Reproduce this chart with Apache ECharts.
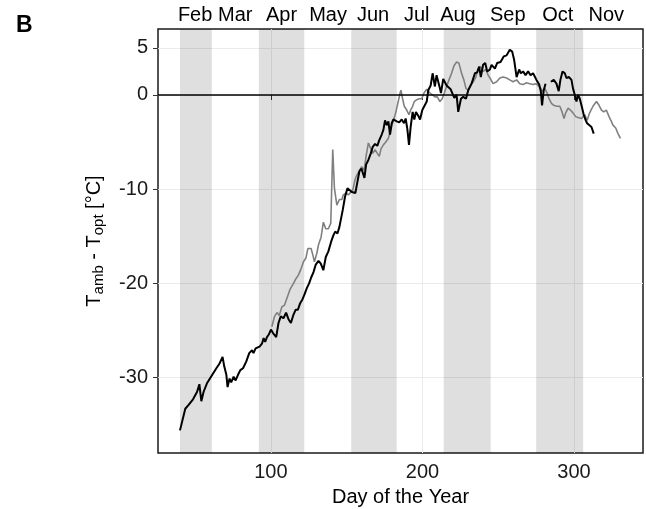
<!DOCTYPE html>
<html>
<head>
<meta charset="utf-8">
<script src="https://cdn.jsdelivr.net/npm/echarts@6/dist/echarts.min.js"></script>
<style>
  html, body { margin: 0; padding: 0; background: #fff; }
  #chart { width: 646px; height: 509px; }
</style>
</head>
<body>
<div id="chart"></div>
<script>
// black series (day of year, Tamb - Topt)
const blackDays = [40, 43.5, 45.7, 48.6, 51.3, 52.8, 54.1, 55.6, 57.8, 60.5, 61.8, 64, 66.1, 68.1, 69.2, 70.6,
  71.4, 72.7, 73.8, 75.4, 76.7, 78.3, 79.8, 81.6, 82.4, 83.7, 85.7, 87.5, 88.5, 89.9, 91.2, 92.5, 94.1, 95.2,
  96.2, 97.4, 98.7, 100, 101.5, 103.5, 105, 106.5, 108.3, 110, 111.6, 113.2, 114.7, 116.3, 117.8, 119.3, 120.8,
  122.1, 123.7, 125.2, 126.5, 128.1, 129.6, 131.4, 132.9, 134.6, 136.2, 137.9, 139.7, 141.2, 142.4, 143.9,
  145.2, 146.1, 147.4, 148.9, 150.5, 151.8, 153.4, 154.4, 155.7, 157.1, 158.4, 159.7, 160.8, 161.7, 162.8,
  164.3, 165.9, 167.2, 168.7, 170.2, 171.5, 173.1, 174.2, 175.3, 176.4, 177.5, 178.6, 179.7, 180.8, 182, 183,
  184.7, 186.3, 187.8, 188.9, 190, 191.1, 192.2, 193.5, 194.6, 195.7, 197.2, 198.4, 199.9, 201.2, 202.8, 203.8,
  205.4, 206.7, 208.2, 209.3, 210.4, 211.5, 212.2, 213.7, 215.9, 217, 218.6, 219.9, 221, 222.5, 223.6, 225.4,
  226.9, 228.7, 230.2, 232.4, 234.6, 236.1, 237.4, 238.5, 240, 241.4, 242.7, 244.5, 245.6, 247.8, 249.3, 251.5,
  253.7, 255.5, 257.6, 259.2, 260.5, 262.1, 263.8, 264.9, 266.4, 268, 269.7, 271.3, 273, 275.2, 277, 278.1,
  278.9, 280, 281.2, 283, 284.7, 286.6, 288.4, 289.9, 291, 292.4, 293.9, 295, 296.7, 298.3, 299.3, 300.5,
  301.6, 302.6, 303.8, 304.9, 306.4, 307.7, 308.6, 309.9, 311.5, 313];
const blackTemps = [-35.6, -33.3, -32.9, -32.3, -31.5, -30.7, -32.5, -31.5, -30.6, -29.9, -29.8, -29.0, -28.5,
  -27.8, -28.8, -29.7, -31.0, -30.1, -30.5, -29.9, -30.3, -29.7, -29.2, -29.0, -29.2, -28.3, -27.4, -27.1,
  -27.4, -26.9, -27.0, -26.7, -26.4, -25.8, -26.2, -25.7, -25.4, -24.9, -25.3, -25.7, -24.2, -23.5, -23.7,
  -23.1, -23.8, -24.2, -23.4, -22.8, -22.8, -22.1, -21.7, -21.2, -20.5, -20.0, -19.4, -18.8, -18.0, -17.6,
  -17.9, -18.6, -17.2, -16.6, -15.6, -14.9, -14.5, -14.7, -14.0, -14.2, -12.2, -10.8, -9.9, -9.7, -10.3,
  -10.1, -10.4, -9.2, -8.1, -7.8, -8.0, -8.8, -7.4, -6.9, -6.2, -5.5, -5.2, -5.4, -4.8, -4.2, -3.7, -2.7,
  -3.2, -2.8, -4.2, -3.0, -2.6, -2.7, -2.8, -2.9, -2.6, -3.0, -2.5, -3.6, -5.3, -3.4, -1.8, -2.6, -1.8, -2.2,
  -2.6, -1.6, -1.8, -0.7, 0.5, 1.0, 2.3, 0.9, 2.1, 2.3, 0.7, 0.2, 1.7, 1.0, 1.2, 0.6, 0.4, -0.3, 0.0, -1.8,
  -0.4, -0.2, -0.4, 0.5, 1.2, 2.3, 2.4, 3.0, 1.9, 3.2, 3.4, 2.5, 2.7, 3.2, 2.8, 3.4, 3.5, 4.1, 4.2, 4.8, 4.6,
  3.7, 1.9, 2.7, 2.3, 2.5, 2.1, 2.5, 2.1, 2.3, 1.6, 1.1, 0.4, -1.1, 0.5, 1.2, null, 1.4, 1.6, 1.2, 0.4, 1.6,
  2.5, 2.3, 1.8, 1.9, 1.6, 0.7, 0.0, -0.7, 0.0, -0.4, -1.1, -2.1, -2.7, -3.0, -3.2, -3.4, -4.1];

// grey series
const greyDays = [100.6, 102.4, 104, 105.5, 107.2, 109, 110.5, 112.7, 114.9, 116.5, 118.2, 120, 121.5, 123.1,
  124.4, 125.4, 126.5, 127.7, 128.7, 130.3, 131.4, 133.1, 134.6, 136.2, 137.9, 139.5, 140.8, 141.9, 143.5,
  145.2, 146.8, 147.8, 149.6, 151.1, 152.2, 154, 155.5, 156.7, 158.4, 159.9, 161.5, 162.8, 164.3, 165.9, 167.2,
  168.7, 170.2, 171.5, 172.7, 174.2, 175.8, 177.5, 179, 180.8, 182.3, 184, 185.2, 185.8, 186.9, 188, 189.6,
  191.1, 192.2, 193.5, 194.6, 196.2, 197.9, 199.5, 201, 202.8, 204.9, 206.7, 208.2, 209.8, 211.5, 213, 214.4,
  215.9, 217.5, 219.2, 220.8, 222.5, 224, 225.8, 227.3, 228.7, 230.2, 231.8, 233.5, 235.2, 236.8, 238.3, 240,
  241.8, 243.3, 244.5, 246.6, 248.9, 251.1, 253.2, 255.5, 257.6, 259.8, 262.1, 264.2, 266.4, 268.6, 270.8, 273,
  274.8, 277, 279.2, 280.7, 282.2, 283.5, 285.1, 286.6, 288.4, 290.6, 292.1, 293.4, 294.5, 296.1, 297.6, 299.3,
  301.1, 302.6, 304.9, 307.1, 308.6, 310.3, 312.5, 314.8, 316.5, 318.1, 319.6, 321.3, 323.1, 324.6, 325.7,
  327.5, 329, 330.6];
const greyTemps = [-24.6, -23.5, -23.1, -23.4, -22.5, -22.3, -21.6, -20.6, -20.0, -19.5, -19.1, -18.4, -17.7,
  -17.3, -16.3, -16.5, -16.3, -17.0, -17.7, -16.8, -15.9, -15.1, -13.5, -14.2, -14.2, -13.6, -5.8, -9.9, -11.7,
  -11.1, -11.1, -10.6, -10.4, -10.6, -10.4, -10.1, -9.0, -8.5, -8.0, -7.6, -8.0, -6.5, -5.1, -5.7, -6.2, -5.8,
  -6.2, -6.5, -5.7, -5.3, -5.0, -4.6, -3.7, -2.7, -1.9, -0.7, 0.2, 0.5, -0.4, -1.2, -1.6, -2.1, -1.6, -1.2,
  -0.7, -0.5, -0.4, -0.4, 0.2, 0.6, 0.2, 0.0, -0.2, -0.2, -0.7, -0.4, 0.2, 0.9, 1.6, 2.3, 3.1, 3.5, 3.4, 2.3,
  1.6, 0.7, 0.5, 1.1, 1.4, 1.9, 2.8, 3.0, 2.5, 2.7, 2.1, 1.8, 1.2, 1.4, 1.8, 1.9, 1.8, 1.6, 1.4, 1.6, 1.2, 1.1,
  1.3, 1.2, 1.1, 1.2, 0.9, 0.4, 0.7, 0.2, -0.4, -0.9, -1.1, -1.2, -1.2, -1.8, -2.5, -1.9, -1.4, -1.6, -1.9,
  -2.3, -2.4, -2.5, -2.1, -2.7, -1.9, -1.2, -0.7, -1.1, -1.6, -1.8, -1.6, -2.3, -2.8, -3.2, -3.5, -4.1, -4.6];

// shaded months (Feb, Apr, Jun, Aug, Oct)
const bandStarts = [40, 92, 153, 214, 275];
const bandEnds = [61, 122, 183, 245, 306];

// month labels on the top axis
const monthNames = ["Feb", "Mar", "Apr", "May", "Jun", "Jul", "Aug", "Sep", "Oct", "Nov"];
const monthPos = [50, 76.5, 107, 137.7, 167.4, 196.2, 223.4, 256.3, 289.3, 321.3];

const xTicks = [100, 200, 300];
const yTicks = [-30, -20, -10, 0, 5];

const font = "Liberation Sans, Arial, sans-serif";

const toPairs = (xs, ys) => xs.map((x, i) => [x, ys[i] === null ? "-" : ys[i]]);

const option = {
  backgroundColor: "#fff",
  animation: false,
  title: {
    text: "B",
    left: 16,
    top: 14,
    padding: 0,
    textStyle: { fontFamily: font, fontSize: 23, fontWeight: "bold", color: "#000" },
  },
  grid: {
    left: 158,
    right: 3,
    top: 29,
    bottom: 56,
    outerBoundsMode: "none",
    containLabel: false,
    show: true,
    borderColor: "#1a1a1a",
    borderWidth: 1.5,
  },
  xAxis: [
    {
      type: "value",
      position: "bottom",
      min: 25.5,
      max: 345.5,
      splitNumber: 3,
      name: "Day of the Year",
      nameLocation: "middle",
      nameGap: 34,
      nameTextStyle: { fontFamily: font, fontSize: 20, color: "#000" },
      axisLine: { show: false },
      axisTick: { show: true, length: 5, customValues: xTicks, lineStyle: { color: "#333" } },
      axisLabel: {
        customValues: xTicks,
        margin: 9,
        fontFamily: font,
        fontSize: 20,
        color: "#1a1a1a",
      },
      splitLine: { show: true, lineStyle: { color: "#ebebeb", width: 1 } },
    },
    {
      type: "value",
      position: "top",
      min: 25.5,
      max: 345.5,
      axisLine: { show: false },
      axisTick: { show: false, customValues: monthPos },
      splitLine: { show: false },
      axisLabel: {
        customValues: monthPos,
        margin: 4,
        fontFamily: font,
        fontSize: 20,
        color: "#000",
        formatter: (v) => monthNames[monthPos.indexOf(v)],
      },
    },
  ],
  yAxis: {
    type: "value",
    min: -38,
    max: 7,
    name: "{m|T}{s|amb}{m| - T}{s|opt}{m| [°C]}",
    nameLocation: "middle",
    nameRotate: 90,
    nameGap: 52,
    nameTextStyle: {
      fontFamily: font,
      color: "#000",
      rich: {
        m: { fontFamily: font, fontSize: 20, lineHeight: 24, color: "#000" },
        s: { fontFamily: font, fontSize: 15, lineHeight: 15, verticalAlign: "bottom", color: "#000" },
      },
    },
    axisLine: { show: false },
    axisTick: { show: true, length: 5, customValues: yTicks, lineStyle: { color: "#333" } },
    axisLabel: {
      customValues: yTicks,
      margin: 10,
      fontFamily: font,
      fontSize: 20,
      color: "#1a1a1a",
    },
    splitLine: { show: true, lineStyle: { color: "#ebebeb", width: 1 } },
  },
  series: [
    {
      name: "grey",
      type: "line",
      data: toPairs(greyDays, greyTemps),
      showSymbol: false,
      lineStyle: { color: "#808080", width: 1.6 },
      z: 3,
      markArea: {
        silent: true,
        itemStyle: { color: "rgba(0,0,0,0.125)" },
        data: bandStarts.map((s, i) => [{ xAxis: s }, { xAxis: bandEnds[i] }]),
      },
      markLine: {
        silent: true,
        symbol: "none",
        label: { show: false },
        lineStyle: { color: "#000", type: "solid", width: 1.5 },
        data: [{ yAxis: 0 }],
      },
    },
    {
      name: "black",
      type: "line",
      data: toPairs(blackDays, blackTemps),
      showSymbol: false,
      connectNulls: false,
      lineStyle: { color: "#000", width: 2 },
      z: 4,
    },
  ],
};

const myChart = echarts.init(document.getElementById("chart"));
myChart.setOption(option);
</script>
</body>
</html>
